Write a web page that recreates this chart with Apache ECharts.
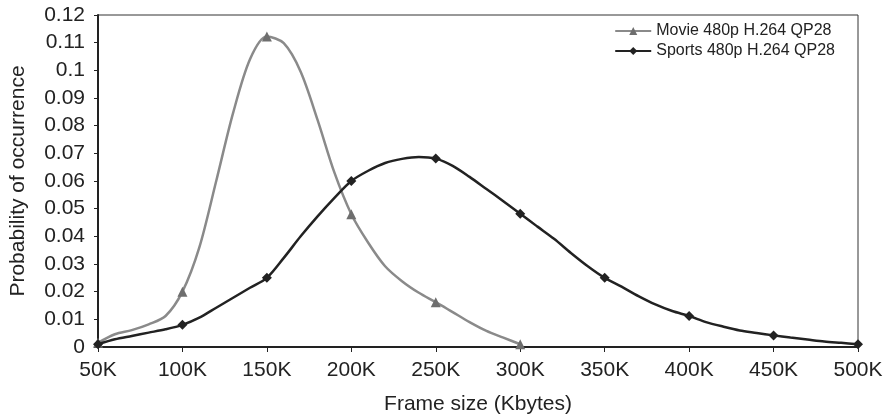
<!DOCTYPE html>
<html>
<head>
<meta charset="utf-8">
<script src="https://cdn.jsdelivr.net/npm/echarts@6/dist/echarts.min.js"></script>
<style>
  html, body { margin: 0; padding: 0; background: #fff; }
  #chart { width: 890px; height: 420px; }
</style>
</head>
<body>
<div id="chart"></div>
<script>
// frame sizes in Kbytes, 10K steps
var movieSizes = [50, 60, 70, 80, 90, 100, 110, 120, 130, 140, 150, 160, 170, 180, 190, 200,
  210, 220, 230, 240, 250, 260, 270, 280, 290, 300];
var movieValues = [0.0015, 0.0046, 0.0061, 0.0082, 0.0112, 0.020, 0.036, 0.060, 0.0846, 0.104, 0.1122, 0.1098,
  0.0995, 0.0821, 0.063, 0.048, 0.0377, 0.0292, 0.0238, 0.0196, 0.0162, 0.0126, 0.009, 0.0058, 0.0034, 0.001];

var sportsSizes = [50, 60, 70, 80, 90, 100, 110, 120, 130, 140, 150, 160, 170, 180, 190, 200,
  210, 220, 230, 240, 250, 260, 270, 280, 290, 300, 310, 320, 330, 340, 350,
  360, 370, 380, 390, 400, 410, 420, 430, 440, 450, 460, 470, 480, 490, 500];
var sportsValues = [0.001, 0.0028, 0.004, 0.0052, 0.0064, 0.008, 0.0106, 0.0142, 0.0178, 0.0214, 0.025,
  0.0322, 0.040, 0.0472, 0.0539, 0.060, 0.0637, 0.0665, 0.068, 0.0687, 0.0681, 0.0655, 0.0615, 0.0571,
  0.0527, 0.0482, 0.0436, 0.0391, 0.034, 0.0292, 0.025, 0.0218, 0.0184, 0.0154, 0.013, 0.0112,
  0.009, 0.0074, 0.006, 0.0051, 0.0042, 0.0034, 0.0027, 0.002, 0.0015, 0.001];

var seriesNames = ['Movie 480p H.264 QP28', 'Sports 480p H.264 QP28'];

// markers only at every 50K
function buildData(sizes, values, symbol) {
  var out = [];
  for (var i = 0; i < sizes.length; i++) {
    out.push({
      value: [sizes[i], values[i]],
      symbol: sizes[i] % 50 === 0 ? symbol : 'none'
    });
  }
  return out;
}

var chart = echarts.init(document.getElementById('chart'));
var font = 'Liberation Sans, Arial, sans-serif';

var option = {
  animation: false,
  grid: {
    left: 98, right: 32, top: 15, bottom: 72,
    show: true, borderColor: '#333', borderWidth: 1
  },
  legend: {
    orient: 'vertical',
    right: 50, top: 18,
    itemWidth: 36, itemHeight: 10, itemGap: 4,
    textStyle: { fontFamily: font, fontSize: 16, color: '#222' },
    data: seriesNames
  },
  xAxis: {
    type: 'value',
    min: 50, max: 500, interval: 50,
    name: 'Frame size (Kbytes)',
    nameLocation: 'middle',
    nameGap: 47,
    nameTextStyle: { fontFamily: font, fontSize: 21, color: '#222' },
    axisLine: { lineStyle: { color: '#222', width: 2 } },
    axisTick: { length: 5, lineStyle: { color: '#222' } },
    axisLabel: {
      fontFamily: font, fontSize: 21, color: '#222', margin: 13,
      formatter: function (v) { return v + 'K'; }
    },
    splitLine: { show: false }
  },
  yAxis: {
    type: 'value',
    min: 0, max: 0.12, interval: 0.01,
    name: 'Probability of occurrence',
    nameLocation: 'middle',
    nameGap: 69,
    nameTextStyle: { fontFamily: font, fontSize: 21, color: '#222' },
    axisLine: { show: true, lineStyle: { color: '#222', width: 2 } },
    axisTick: { show: true, length: 4, lineStyle: { color: '#222' } },
    axisLabel: {
      fontFamily: font, fontSize: 21, color: '#222', margin: 13,
      formatter: function (v) { return String(parseFloat(v.toFixed(2))); }
    },
    splitLine: { show: false }
  },
  series: [{
    name: seriesNames[0],
    type: 'line',
    smooth: 0.3,
    symbol: 'triangle',
    symbolSize: 10,
    lineStyle: { color: '#8a8a8a', width: 2.5 },
    itemStyle: { color: '#6e6e6e' },
    data: buildData(movieSizes, movieValues, 'triangle')
  }, {
    name: seriesNames[1],
    type: 'line',
    smooth: 0.3,
    symbol: 'diamond',
    symbolSize: 10,
    lineStyle: { color: '#222', width: 2.5 },
    itemStyle: { color: '#222' },
    data: buildData(sportsSizes, sportsValues, 'diamond')
  }]
};

chart.setOption(option);
</script>
</body>
</html>
